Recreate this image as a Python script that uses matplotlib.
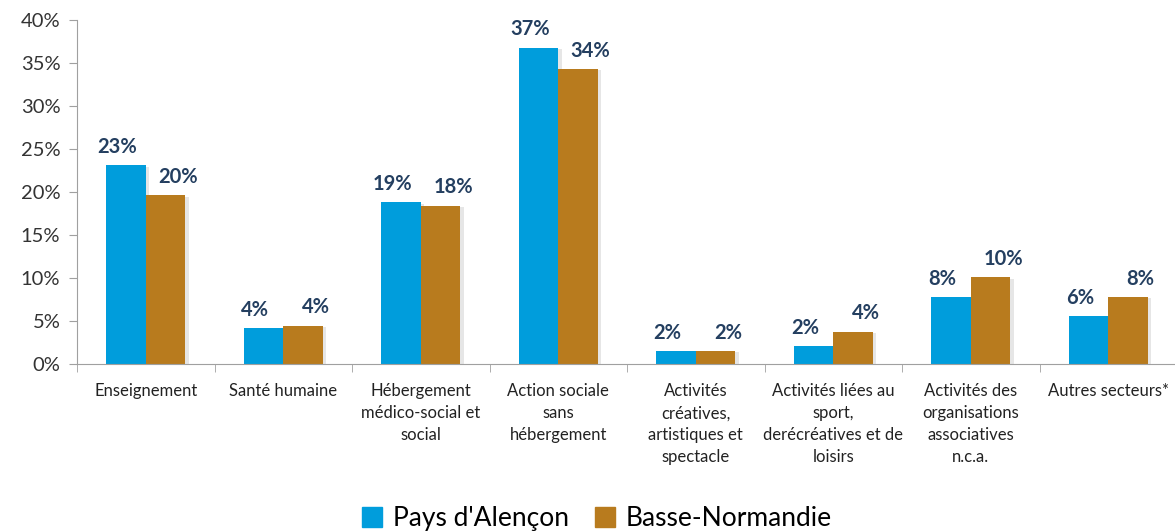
import numpy as np
import matplotlib
matplotlib.use("Agg")
from matplotlib import pyplot as plt
from matplotlib import patheffects as pe
from matplotlib.patches import Patch

plt.rcParams['font.family'] = ['Lato', 'DejaVu Sans']

categories = ["Enseignement", "Santé humaine",
              "Hébergement\nmédico-social et\nsocial",
              "Action sociale\nsans\nhébergement",
              "Activités\ncréatives,\nartistiques et\nspectacle",
              "Activités liées au\nsport,\nderécréatives et de\nloisirs",
              "Activités des\norganisations\nassociatives\nn.c.a.",
              "Autres secteurs*"]
alencon = [23.1, 4.15, 18.8, 36.8, 1.5, 2.1, 7.8, 5.6]
normandie = [19.6, 4.45, 18.4, 34.3, 1.5, 3.75, 10.1, 7.8]
alencon_labels = ["23%", "4%", "19%", "37%", "2%", "2%", "8%", "6%"]
normandie_labels = ["20%", "4%", "18%", "34%", "2%", "4%", "10%", "8%"]

blue = "#009ddc"
gold = "#b87b1e"
navy = "#243f60"

fig = plt.figure(figsize=(11.75, 5.31), dpi=100)
ax = fig.add_axes([77 / 1175, 1 - 364 / 531, 1100 / 1175, 344 / 531])

x = np.arange(len(categories))
w = 0.288
shadow = [pe.SimplePatchShadow(offset=(2.5, -1), shadow_rgbFace="#909090", alpha=0.22), pe.Normal()]
ax.bar(x - w / 2, alencon, w, color=blue, path_effects=shadow)
ax.bar(x + w / 2, normandie, w, color=gold, path_effects=shadow)

for xi, v, t in zip(x, alencon, alencon_labels):
    ax.annotate(t, (xi - w / 2, v), xytext=(-6, 6), textcoords="offset points",
                ha="center", va="bottom", fontsize=14.5, fontweight="bold", color=navy)
for xi, v, t in zip(x, normandie, normandie_labels):
    ax.annotate(t, (xi + w / 2, v), xytext=(9, 6), textcoords="offset points",
                ha="center", va="bottom", fontsize=14.5, fontweight="bold", color=navy)

ax.set_xlim(-0.5, len(categories) - 0.5)
ax.set_ylim(0, 40)
ax.set_yticks(np.arange(0, 41, 5))
ax.set_yticklabels([f"{v}%" for v in range(0, 41, 5)], fontsize=14.5, color="#333333")

ax.set_xticks(x)
ax.set_xticklabels(categories, fontsize=12, color="#222222", linespacing=1.45, va="top")
ax.tick_params(axis="x", which="major", length=0, pad=14)
ax.set_xticks(np.arange(-0.5, len(categories), 1), minor=True)
ax.tick_params(axis="x", which="minor", length=6, color="#a0a0a0")
ax.tick_params(axis="y", length=6, color="#a0a0a0", pad=6)

for s in ["top", "right"]:
    ax.spines[s].set_visible(False)
for s in ["left", "bottom"]:
    ax.spines[s].set_color("#a0a0a0")

handles = [Patch(color=blue, label="Pays d'Alençon"), Patch(color=gold, label="Basse-Normandie")]
fig.legend(handles=handles, loc="lower center", bbox_to_anchor=(0.508, -0.045), ncol=2,
           frameon=False, fontsize=19, handlelength=0.75, handleheight=0.75,
           columnspacing=1.0, handletextpad=0.4)

fig.savefig("out.png", dpi=100)
